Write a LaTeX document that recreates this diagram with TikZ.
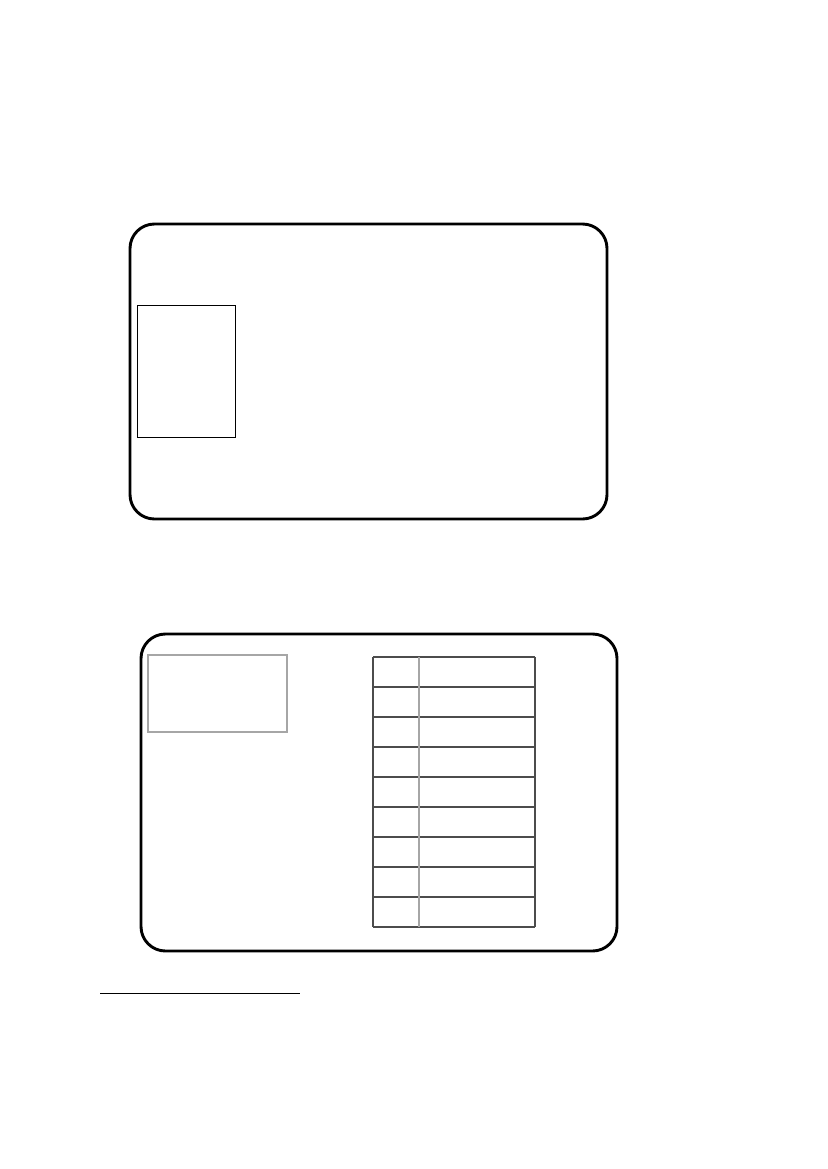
\documentclass[tikz,border=0pt]{standalone}
\usepackage{tikz}
\usetikzlibrary{calc}
\tikzstyle{card} = [draw, line width=2.1pt, rounded corners=0.62cm]
\tikzstyle{photo} = [draw, line width=0.7pt]
\tikzstyle{greybox} = [draw, gray!70, line width=0.9pt]
\tikzstyle{rowline} = [draw, black!70, line width=0.75pt]
\tikzstyle{colline} = [draw, gray!70, line width=1.1pt]
\begin{document}
\begin{tikzpicture}[x=0.025393cm, y=-0.025393cm]
    \useasboundingbox (0,0) rectangle (827,1169);
    % upper card
    \draw [card] (130,224) rectangle (607,519);
    \draw [photo] (137,305) rectangle (235,437);
    % lower card
    \draw [card] (141,634) rectangle (617,951);
    \draw [greybox] (148,655) rectangle (287,732);
    % table
    \foreach \r in {0,...,9}
        \draw [rowline] (373,657+30*\r) -- (535,657+30*\r);
    \draw [rowline] (373,657) -- (373,927);
    \draw [rowline] (535,657) -- (535,927);
    \draw [colline] (419,657) -- (419,927);
    % footnote rule
    \draw [line width=0.7pt] (100,993) -- (300,993);
\end{tikzpicture}
\end{document}
